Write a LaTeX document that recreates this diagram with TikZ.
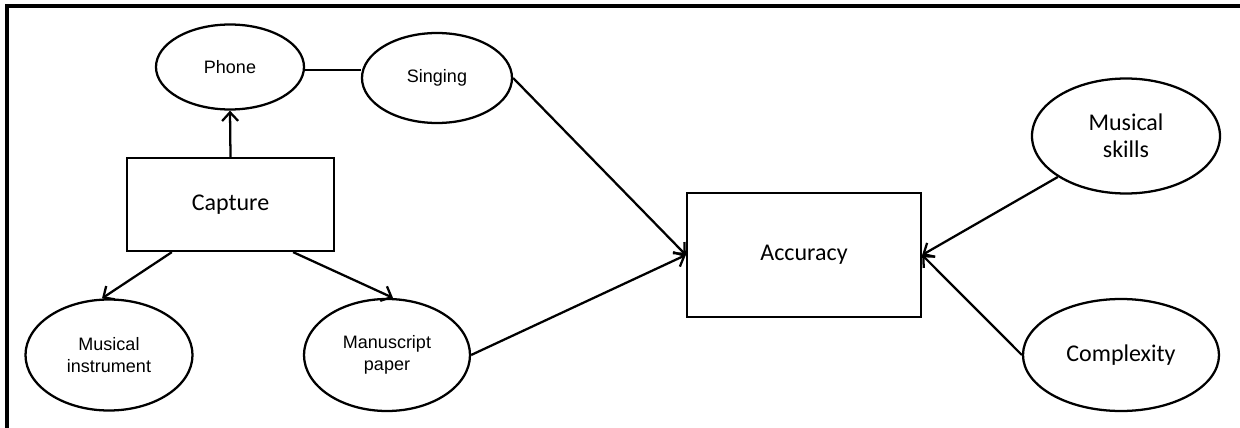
\documentclass[tikz,border=0pt]{standalone}
\usepackage{fontspec}
\setmainfont{Carlito}
\newfontfamily\hv{Liberation Sans}
\usetikzlibrary{shapes.geometric,arrows.meta}
\tikzset{
  ell/.style={draw, ellipse, line width=1.7pt, inner sep=0pt, align=center,
    font=\hv\fontsize{13.5pt}{16pt}\selectfont},
  ellc/.style={draw, ellipse, line width=1.7pt, inner sep=0pt, align=center,
    font=\fontsize{18pt}{20pt}\selectfont},
  box/.style={draw, rectangle, line width=1.7pt, inner sep=0pt,
    font=\fontsize{18pt}{20pt}\selectfont},
  link/.style={line width=1.7pt},
  arr/.style={line width=1.7pt, -{Straight Barb[length=6.5pt,width=12pt]}},
  frame/.style={line width=2.4pt}
}
\begin{document}
\begin{tikzpicture}[x=0.75pt,y=-0.75pt]
\useasboundingbox (0,0) rectangle (1240,428);
\fill[white] (0,0) rectangle (1240,428);
\draw[frame] (7,440) -- (7,6) -- (1250,6);

\node[ell, minimum width=111pt, minimum height=63.75pt] (phone) at (230,67) {Phone};
\node[ell, minimum width=112.5pt, minimum height=67.5pt] (sing) at (437,78) {Singing};
\node[box, minimum width=155.25pt, minimum height=69.75pt] (cap) at (230.5,204.5) {Capture};
\node[ell, minimum width=125.25pt, minimum height=83.25pt] (mi) at (109,355) {Musical\\instrument};
\node[ell, minimum width=124.5pt, minimum height=84pt] (ms) at (387,355) {Manuscript\\paper};
\node[box, minimum width=175.5pt, minimum height=93pt] (acc) at (804,255) {Accuracy};
\node[ellc, minimum width=141pt, minimum height=86.25pt] (msk) at (1126,136) {Musical\\skills};
\node[ellc, minimum width=147pt, minimum height=84pt] (cx) at (1121,355) {Complexity};

\coordinate (pe) at ([yshift=-2.25pt]phone.east);
\draw[link] (pe) -- (pe -| sing.west);
\draw[arr] (cap.north) -- (phone.south);
\draw[arr] ([xshift=34.5pt]cap.south west) -- ([xshift=-5.25pt]mi.north);
\draw[arr] ([xshift=-31.5pt]cap.south east) -- ([xshift=4.5pt]ms.north);
\draw[arr] (sing.east) -- (acc.west);
\draw[arr] (ms.east) -- (acc.west);
\draw[arr] (msk.211) -- (acc.east);
\draw[arr] (cx.west) -- (acc.east);
\end{tikzpicture}
\end{document}
